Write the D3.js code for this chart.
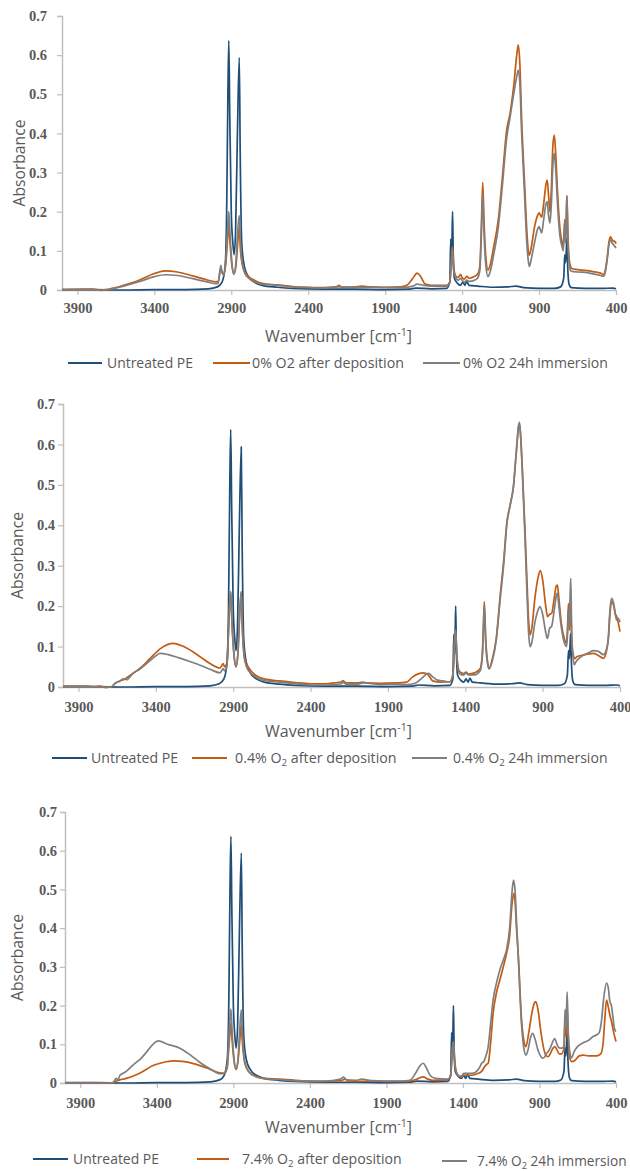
<!DOCTYPE html>
<html><head><meta charset="utf-8">
<script src="https://cdn.jsdelivr.net/npm/d3@7"></script>
<style>
html,body{margin:0;padding:0;background:#fff;}
svg{display:block;}
</style></head>
<body>
<svg id="chart" width="630" height="1171"></svg>
<script>
// ---------- DATA (wavenumber cm-1, absorbance) ----------
const yTicks = [0, 0.1, 0.2, 0.3, 0.4, 0.5, 0.6, 0.7];
const yTickLabels = ["0", "0.1", "0.2", "0.3", "0.4", "0.5", "0.6", "0.7"];
const xTicks = [3900, 3400, 2900, 2400, 1900, 1400, 900, 400];
const xTickLabels = ["3900", "3400", "2900", "2400", "1900", "1400", "900", "400"];

const untreatedPE = [[4000,0.001],[3800,0.001],[3600,0.0],[3400,0.001],[3200,0.001],[3050,0.003],[2990,0.008],[2960,0.02],[2940,0.06],[2930,0.2],[2922,0.5],[2916,0.637],[2910,0.45],[2900,0.2],[2890,0.12],[2882,0.09],[2872,0.15],[2860,0.4],[2848,0.594],[2842,0.35],[2832,0.12],[2815,0.06],[2790,0.035],[2750,0.02],[2700,0.012],[2600,0.007],[2500,0.004],[2300,0.002],[2100,0.002],[1900,0.001],[1750,0.002],[1700,0.005],[1600,0.003],[1500,0.004],[1480,0.02],[1474,0.13],[1470,0.08],[1466,0.12],[1462,0.2],[1458,0.1],[1450,0.03],[1430,0.017],[1410,0.012],[1395,0.02],[1382,0.012],[1370,0.022],[1355,0.012],[1300,0.01],[1200,0.007],[1100,0.008],[1050,0.01],[1000,0.006],[900,0.004],[800,0.004],[760,0.008],[740,0.03],[733,0.09],[728,0.07],[722,0.11],[719,0.132],[714,0.06],[705,0.015],[690,0.006],[600,0.004],[500,0.004],[420,0.005],[400,0.003]];

const o2_0_deposition = [[4000,0.001],[3800,0.002],[3750,0.0],[3700,0.002],[3650,0.006],[3600,0.012],[3500,0.025],[3400,0.042],[3330,0.049],[3250,0.046],[3150,0.036],[3050,0.025],[3000,0.021],[2985,0.022],[2968,0.055],[2960,0.045],[2950,0.04],[2935,0.07],[2922,0.14],[2916,0.165],[2908,0.12],[2895,0.06],[2882,0.042],[2870,0.06],[2858,0.12],[2848,0.16],[2840,0.1],[2825,0.06],[2800,0.04],[2750,0.025],[2700,0.017],[2600,0.013],[2500,0.009],[2400,0.007],[2300,0.006],[2220,0.008],[2200,0.012],[2180,0.007],[2100,0.008],[2050,0.01],[2000,0.008],[1900,0.007],[1800,0.008],[1760,0.012],[1720,0.03],[1693,0.043],[1670,0.035],[1640,0.015],[1600,0.012],[1500,0.012],[1480,0.02],[1466,0.1],[1462,0.11],[1455,0.06],[1440,0.035],[1425,0.032],[1410,0.04],[1400,0.032],[1385,0.028],[1370,0.035],[1355,0.03],[1320,0.035],[1300,0.04],[1285,0.06],[1275,0.16],[1266,0.275],[1258,0.18],[1245,0.08],[1232,0.051],[1219,0.062],[1195,0.11],[1165,0.179],[1140,0.28],[1110,0.41],[1089,0.45],[1065,0.52],[1045,0.6],[1035,0.626],[1025,0.58],[1013,0.434],[995,0.28],[981,0.162],[970,0.1],[963,0.089],[950,0.11],[930,0.16],[910,0.19],[900,0.197],[890,0.19],[883,0.186],[870,0.22],[855,0.27],[847,0.281],[838,0.24],[829,0.2],[820,0.26],[810,0.37],[801,0.396],[792,0.35],[780,0.25],[765,0.16],[750,0.12],[743,0.11],[736,0.16],[732,0.18],[727,0.13],[722,0.2],[719,0.241],[713,0.15],[705,0.08],[695,0.06],[688,0.055],[650,0.052],[600,0.05],[550,0.047],[500,0.043],[480,0.04],[470,0.05],[455,0.09],[445,0.125],[435,0.136],[425,0.128],[415,0.125],[405,0.123],[400,0.118]];

const o2_0_immersion = [[4000,0.0],[3800,0.001],[3750,-0.001],[3700,0.001],[3650,0.005],[3600,0.01],[3500,0.021],[3400,0.034],[3330,0.039],[3250,0.037],[3150,0.029],[3050,0.02],[3000,0.016],[2985,0.018],[2968,0.063],[2960,0.045],[2950,0.038],[2935,0.08],[2922,0.17],[2916,0.2],[2908,0.14],[2895,0.065],[2882,0.04],[2870,0.07],[2858,0.15],[2848,0.19],[2840,0.12],[2825,0.06],[2800,0.035],[2750,0.022],[2700,0.015],[2600,0.012],[2500,0.008],[2400,0.006],[2300,0.005],[2200,0.008],[2100,0.007],[2000,0.007],[1900,0.006],[1800,0.006],[1720,0.01],[1693,0.015],[1650,0.012],[1600,0.01],[1500,0.01],[1480,0.02],[1466,0.09],[1462,0.105],[1455,0.05],[1440,0.03],[1425,0.025],[1410,0.03],[1400,0.025],[1385,0.02],[1370,0.025],[1355,0.022],[1320,0.025],[1300,0.03],[1285,0.05],[1275,0.14],[1266,0.247],[1258,0.15],[1245,0.06],[1232,0.034],[1219,0.045],[1195,0.09],[1165,0.16],[1140,0.26],[1110,0.39],[1089,0.44],[1065,0.5],[1045,0.545],[1035,0.562],[1025,0.53],[1013,0.4],[995,0.25],[981,0.13],[970,0.075],[963,0.06],[950,0.08],[930,0.12],[910,0.155],[900,0.162],[890,0.152],[883,0.146],[870,0.18],[855,0.22],[847,0.226],[838,0.19],[829,0.171],[820,0.22],[810,0.32],[801,0.349],[792,0.31],[780,0.22],[765,0.14],[750,0.11],[743,0.1],[736,0.15],[732,0.175],[727,0.12],[722,0.2],[719,0.24],[713,0.14],[705,0.07],[695,0.05],[688,0.048],[650,0.046],[600,0.045],[550,0.041],[500,0.037],[480,0.035],[470,0.045],[455,0.085],[445,0.118],[435,0.128],[425,0.12],[415,0.115],[405,0.11],[400,0.107]];

const o2_04_deposition = [[4000,0.002],[3850,0.002],[3800,0.001],[3760,0.002],[3720,-0.001],[3690,0.0],[3660,0.01],[3630,0.015],[3600,0.02],[3547,0.034],[3500,0.047],[3438,0.07],[3370,0.095],[3287,0.108],[3220,0.1],[3114,0.075],[3050,0.058],[2985,0.047],[2965,0.058],[2955,0.05],[2940,0.06],[2930,0.14],[2922,0.21],[2916,0.235],[2908,0.16],[2895,0.08],[2882,0.05],[2870,0.08],[2858,0.18],[2848,0.235],[2840,0.14],[2825,0.07],[2800,0.048],[2750,0.028],[2700,0.02],[2600,0.015],[2500,0.011],[2400,0.008],[2300,0.008],[2250,0.01],[2200,0.013],[2190,0.016],[2170,0.01],[2100,0.01],[2060,0.012],[2040,0.01],[1950,0.009],[1850,0.01],[1780,0.012],[1740,0.025],[1700,0.033],[1673,0.035],[1640,0.03],[1610,0.015],[1560,0.012],[1500,0.013],[1480,0.03],[1468,0.12],[1462,0.14],[1455,0.08],[1440,0.04],[1425,0.035],[1410,0.033],[1395,0.037],[1380,0.032],[1340,0.035],[1304,0.045],[1290,0.08],[1283,0.15],[1277,0.211],[1268,0.12],[1255,0.06],[1246,0.046],[1225,0.07],[1200,0.12],[1175,0.223],[1150,0.32],[1132,0.405],[1110,0.45],[1089,0.495],[1070,0.58],[1055,0.645],[1050,0.652],[1042,0.62],[1030,0.53],[1014,0.388],[1000,0.25],[990,0.16],[981,0.129],[970,0.145],[950,0.22],[930,0.27],[915,0.288],[900,0.265],[880,0.2],[868,0.174],[855,0.18],[842,0.182],[825,0.22],[812,0.25],[805,0.252],[795,0.22],[780,0.16],[760,0.12],[745,0.108],[738,0.16],[733,0.207],[727,0.14],[722,0.19],[719,0.22],[713,0.13],[705,0.085],[690,0.07],[680,0.075],[650,0.078],[600,0.082],[572,0.083],[540,0.078],[507,0.071],[490,0.085],[475,0.12],[465,0.18],[454,0.211],[440,0.2],[430,0.18],[422,0.175],[412,0.16],[400,0.137]];

const o2_04_immersion = [[4000,0.001],[3850,0.001],[3760,0.0],[3720,-0.001],[3690,0.0],[3660,0.01],[3632,0.015],[3610,0.02],[3590,0.018],[3547,0.034],[3500,0.045],[3438,0.065],[3400,0.077],[3373,0.083],[3320,0.08],[3250,0.072],[3180,0.063],[3114,0.054],[3050,0.044],[2985,0.035],[2965,0.045],[2955,0.04],[2940,0.055],[2930,0.14],[2922,0.21],[2916,0.236],[2908,0.16],[2895,0.08],[2882,0.05],[2870,0.08],[2858,0.18],[2848,0.236],[2840,0.14],[2825,0.065],[2800,0.04],[2750,0.024],[2700,0.016],[2600,0.012],[2500,0.008],[2400,0.005],[2300,0.005],[2200,0.008],[2190,0.012],[2170,0.007],[2100,0.007],[2060,0.01],[1950,0.006],[1850,0.007],[1780,0.006],[1720,0.01],[1680,0.022],[1639,0.034],[1610,0.025],[1580,0.017],[1544,0.015],[1500,0.013],[1480,0.03],[1468,0.12],[1462,0.14],[1455,0.08],[1440,0.035],[1425,0.03],[1410,0.03],[1395,0.035],[1380,0.03],[1340,0.03],[1304,0.04],[1290,0.075],[1283,0.14],[1277,0.2],[1268,0.11],[1255,0.055],[1246,0.045],[1225,0.065],[1200,0.115],[1175,0.215],[1150,0.31],[1132,0.4],[1110,0.45],[1089,0.495],[1070,0.585],[1055,0.648],[1050,0.655],[1042,0.62],[1030,0.52],[1014,0.37],[1000,0.22],[990,0.13],[981,0.1],[970,0.11],[950,0.16],[930,0.19],[917,0.199],[900,0.18],[880,0.135],[869,0.12],[855,0.145],[842,0.15],[825,0.19],[812,0.225],[805,0.232],[795,0.2],[780,0.15],[760,0.11],[745,0.1],[738,0.14],[733,0.19],[727,0.15],[722,0.23],[718,0.269],[713,0.15],[705,0.08],[695,0.055],[688,0.06],[680,0.065],[650,0.075],[600,0.085],[572,0.09],[540,0.088],[507,0.08],[490,0.09],[475,0.125],[465,0.19],[454,0.219],[440,0.205],[430,0.18],[422,0.166],[412,0.17],[400,0.16]];

const o2_74_deposition = [[4000,0.0],[3800,0.0],[3700,0.0],[3684,0.001],[3660,0.006],[3641,0.008],[3600,0.012],[3554,0.018],[3500,0.028],[3425,0.045],[3360,0.053],[3293,0.057],[3220,0.055],[3118,0.045],[3050,0.035],[2988,0.026],[2960,0.025],[2940,0.04],[2930,0.09],[2922,0.13],[2916,0.155],[2908,0.11],[2895,0.055],[2882,0.035],[2870,0.055],[2858,0.11],[2848,0.15],[2840,0.1],[2825,0.05],[2800,0.03],[2750,0.016],[2700,0.012],[2600,0.01],[2500,0.007],[2400,0.005],[2300,0.004],[2200,0.006],[2170,0.01],[2150,0.005],[2100,0.004],[2000,0.005],[1900,0.004],[1800,0.004],[1750,0.005],[1700,0.01],[1660,0.016],[1630,0.01],[1600,0.007],[1500,0.008],[1480,0.02],[1468,0.09],[1462,0.105],[1455,0.06],[1440,0.025],[1425,0.018],[1410,0.015],[1395,0.02],[1380,0.02],[1340,0.02],[1300,0.025],[1278,0.03],[1262,0.04],[1245,0.048],[1235,0.051],[1220,0.1],[1203,0.18],[1180,0.235],[1159,0.266],[1130,0.31],[1115,0.335],[1095,0.38],[1080,0.46],[1067,0.49],[1058,0.46],[1050,0.4],[1039,0.335],[1017,0.163],[1000,0.105],[989,0.094],[970,0.13],[950,0.18],[935,0.205],[924,0.21],[910,0.19],[890,0.13],[870,0.085],[855,0.07],[843,0.068],[830,0.075],[815,0.088],[800,0.094],[785,0.085],[770,0.075],[756,0.075],[740,0.09],[733,0.16],[727,0.12],[722,0.17],[719,0.2],[713,0.13],[705,0.07],[690,0.055],[669,0.058],[640,0.07],[614,0.072],[580,0.07],[527,0.07],[500,0.075],[485,0.1],[472,0.17],[462,0.214],[452,0.2],[440,0.175],[430,0.16],[415,0.13],[400,0.107]];

const o2_74_immersion = [[4000,0.0],[3800,0.0],[3700,0.0],[3684,0.002],[3665,0.012],[3655,0.008],[3641,0.02],[3620,0.025],[3600,0.03],[3554,0.047],[3500,0.065],[3467,0.08],[3430,0.098],[3391,0.109],[3330,0.1],[3249,0.09],[3180,0.072],[3118,0.053],[3050,0.036],[2988,0.024],[2960,0.025],[2940,0.045],[2930,0.11],[2922,0.17],[2916,0.191],[2908,0.13],[2895,0.06],[2882,0.035],[2870,0.06],[2858,0.14],[2848,0.189],[2840,0.12],[2825,0.055],[2800,0.03],[2750,0.016],[2700,0.011],[2600,0.009],[2500,0.006],[2400,0.005],[2300,0.005],[2200,0.01],[2180,0.015],[2160,0.008],[2100,0.007],[2060,0.01],[2000,0.006],[1900,0.005],[1800,0.005],[1747,0.007],[1710,0.025],[1680,0.045],[1660,0.051],[1640,0.04],[1615,0.02],[1580,0.012],[1500,0.01],[1480,0.02],[1468,0.095],[1462,0.107],[1455,0.06],[1440,0.025],[1425,0.018],[1410,0.018],[1395,0.025],[1380,0.025],[1340,0.025],[1300,0.035],[1285,0.045],[1278,0.051],[1265,0.055],[1250,0.07],[1235,0.094],[1220,0.15],[1203,0.214],[1180,0.26],[1159,0.292],[1130,0.325],[1115,0.344],[1095,0.4],[1080,0.49],[1070,0.524],[1060,0.5],[1048,0.4],[1039,0.33],[1017,0.15],[1000,0.085],[989,0.072],[975,0.085],[960,0.115],[945,0.128],[930,0.115],[910,0.085],[890,0.068],[876,0.064],[855,0.075],[830,0.09],[815,0.105],[800,0.115],[790,0.105],[775,0.092],[756,0.09],[740,0.095],[733,0.19],[727,0.14],[722,0.2],[719,0.235],[713,0.14],[700,0.075],[690,0.065],[675,0.08],[660,0.09],[614,0.104],[580,0.11],[550,0.12],[527,0.124],[510,0.13],[495,0.16],[480,0.22],[462,0.258],[450,0.245],[440,0.21],[430,0.2],[420,0.17],[410,0.14],[400,0.133]];

const seriesColors = ["#1f4e79", "#c55a11", "#7f7f7f"];

// ---------- LAYOUT ----------
const panels = [
  { series: [untreatedPE, o2_0_deposition, o2_0_immersion],
    labels: [["Untreated PE"], ["0% O2 after deposition"], ["0% O2 24h immersion"]],
    xr: [62, 616], y0: 290, y7: 16, yLabelX: 47, xLabelY: 313, titleY: 342, absX: 20,
    leg: { y: 363, lines: [[68,102],[213,250],[423,460]], textX: [107,252,463], textW: [86,152,145], dy:[0,0,0] } },
  { series: [untreatedPE, o2_04_deposition, o2_04_immersion],
    labels: [["Untreated PE"], ["0.4% O", "2", " after deposition"], ["0.4% O", "2", " 24h immersion"]],
    xr: [63, 620], y0: 687, y7: 404, yLabelX: 55, xLabelY: 712, titleY: 737, absX: 18,
    leg: { y: 758, lines: [[52,87],[192,227],[412,447]], textX: [91,235,453], textW: [87,162,155], dy:[0,0,0] } },
  { series: [untreatedPE, o2_74_deposition, o2_74_immersion],
    labels: [["Untreated PE"], ["7.4% O", "2", " after deposition"], ["7.4% O", "2", " 24h immersion"]],
    xr: [65, 616], y0: 1083, y7: 812, yLabelX: 57, xLabelY: 1108, titleY: 1133, absX: 18,
    leg: { y: 1159, lines: [[33,68],[197,229],[442,467]], textX: [73,242,477], textW: [86,160,150], dy:[0,0,2] } }
];

const svg = d3.select("#chart");
const axisColor = "#bfbfbf";
const textColor = "#595959";

function fitWidth(sel, target) {
  const node = sel.node();
  const base = parseFloat(sel.attr("font-size"));
  const w = node.getComputedTextLength();
  if (w > 0) sel.attr("font-size", (base * target / w).toFixed(2));
}

panels.forEach(p => {
  const x = d3.scaleLinear().domain([4000, 400]).range(p.xr);
  const y = d3.scaleLinear().domain([0, 0.7]).range([p.y0, p.y7]);
  const g = svg.append("g");

  // y axis
  const yAxis = d3.axisLeft(y).tickValues(yTicks).tickSize(5).tickFormat((d, i) => yTickLabels[i]);
  const ya = g.append("g").attr("transform", `translate(${p.xr[0]},0)`).call(yAxis);
  ya.select(".domain").attr("stroke", axisColor).attr("stroke-width", 1.5);
  ya.selectAll(".tick line").attr("stroke", axisColor).attr("stroke-width", 1.2);
  ya.selectAll(".tick text")
    .attr("x", p.yLabelX - p.xr[0])
    .attr("font-family", "'Liberation Serif', serif").attr("font-weight", "bold")
    .attr("font-size", 14.5).attr("fill", textColor);

  // x axis
  const xAxis = d3.axisBottom(x).tickValues(xTicks).tickSize(5).tickSizeOuter(0).tickFormat((d, i) => xTickLabels[i]);
  const xa = g.append("g").attr("transform", `translate(0,${p.y0})`).call(xAxis);
  xa.select(".domain").attr("stroke", axisColor).attr("stroke-width", 1.5);
  xa.selectAll(".tick line").attr("stroke", axisColor).attr("stroke-width", 1.2);
  xa.selectAll(".tick text")
    .attr("y", null).attr("dy", null)
    .attr("transform", `translate(0,${p.xLabelY - p.y0})`)
    .attr("font-family", "'Liberation Serif', serif").attr("font-weight", "bold")
    .attr("font-size", 14.5).attr("fill", textColor);

  // series
  const line = d3.line().x(d => x(d[0])).y(d => y(d[1])).curve(d3.curveMonotoneX);
  p.series.forEach((s, i) => {
    g.append("path").datum(s).attr("d", line)
      .attr("fill", "none").attr("stroke", seriesColors[i])
      .attr("stroke-width", 1.7).attr("stroke-linejoin", "round");
  });

  // axis titles
  const xt = g.append("text").attr("x", (265 + 412) / 2).attr("y", p.titleY)
    .attr("text-anchor", "middle").attr("font-family", "'Open Sans', sans-serif")
    .attr("font-size", 15).attr("fill", textColor);
  xt.append("tspan").text("Wavenumber [cm");
  xt.append("tspan").text("-1").attr("font-size", 10).attr("dy", -6);
  xt.append("tspan").text("]").attr("dy", 6);
  fitWidth(xt, 147);
  xt.selectAll("tspan").filter((d, i) => i === 1).attr("font-size", parseFloat(xt.attr("font-size")) * 0.66);

  const yc = (p.y0 + p.y7) / 2 + 10;
  const at = g.append("text").attr("transform", `translate(${p.absX + 5},${yc}) rotate(-90)`)
    .attr("text-anchor", "middle").attr("font-family", "'Open Sans', sans-serif")
    .attr("font-size", 15).attr("fill", textColor).text("Absorbance");
  fitWidth(at, 87);

  // legend
  p.labels.forEach((lab, i) => {
    const ly = p.leg.y + p.leg.dy[i];
    g.append("line").attr("x1", p.leg.lines[i][0]).attr("x2", p.leg.lines[i][1])
      .attr("y1", ly).attr("y2", ly).attr("stroke", seriesColors[i]).attr("stroke-width", 2);
    const t = g.append("text").attr("x", p.leg.textX[i]).attr("y", ly + 5)
      .attr("font-family", "'Open Sans', sans-serif").attr("font-size", 14).attr("fill", textColor);
    if (lab.length === 1) {
      t.text(lab[0]);
    } else {
      t.append("tspan").text(lab[0]);
      t.append("tspan").text(lab[1]).attr("font-size", 10).attr("dy", 3);
      t.append("tspan").text(lab[2]).attr("dy", -3);
    }
    fitWidth(t, p.leg.textW[i]);
    const fs = parseFloat(t.attr("font-size"));
    t.selectAll("tspan").filter((d, k) => k === 1).attr("font-size", fs * 0.68);
  });
});
</script>
</body></html>
